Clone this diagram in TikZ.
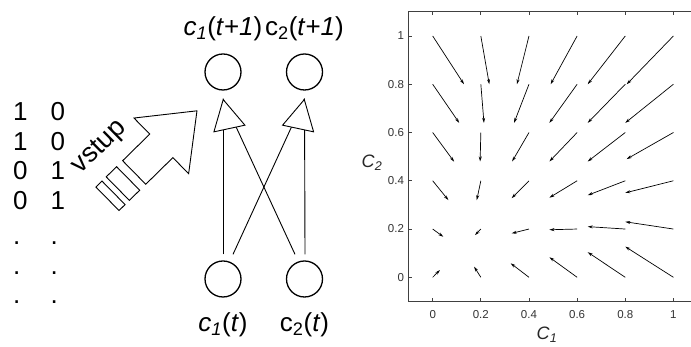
\documentclass[tikz,border=0pt]{standalone}
\usepackage{fontspec}
\setmainfont{Liberation Sans}
\usetikzlibrary{arrows.meta,positioning,calc}
\tikzset{
  neuron/.style={draw, circle, minimum size=36pt, inner sep=0pt, line width=1.3pt},
  lbl/.style={font=\fontsize{26}{30}\selectfont, inner sep=0pt},
  digit/.style={font=\fontsize{26}{30}\selectfont, inner sep=0pt, anchor=base west},
  vlbl/.style={font=\fontsize{27}{30}\selectfont, inner sep=0pt},
  outline/.style={line width=0.9pt, fill=white},
  link/.style={line width=0.9pt},
  head/.style={-{Triangle[length=31pt,width=33pt,fill=white]}, line width=0.9pt},
  vec/.style={-{Stealth[length=5pt,width=3pt]}, line width=0.7pt},
  frame/.style={line width=0.8pt, draw=black!75},
  ticklbl/.style={font=\fontsize{11.5}{13}\selectfont, text=black!80, inner sep=0pt},
  axlbl/.style={font=\fontsize{18}{20}\selectfont, text=black!85, inner sep=0pt}
}
\begin{document}
\begin{tikzpicture}[x=1pt,y=1pt]
  \useasboundingbox (0,0) rectangle (691,347);
  % input patterns
  \foreach \a/\b/\yy [count=\i] in {1/0/226,1/0/196.5,0/1/167,0/1/137.5,././102,././72,././43}{
    \node[digit] (pa\i) at (13,\yy) {\a};
    \node[digit] (pb\i) at (50.5,\yy) {\b};
  }
  % input arrow
  \begin{scope}[shift={(134.2,174.5)},rotate=44.5]
    \draw[outline] (0,16.5) -- (38,16.5) -- (38,39) -- (88,0) -- (38,-39) -- (38,-16.5) -- (0,-16.5) -- cycle;
    \draw[outline] (-23,-16.5) rectangle (-8.5,16.5);
    \draw[outline] (-37.5,-16.5) rectangle (-29,16.5);
    \node[vlbl, transform shape] (vstup) at (-7,42) {vstup};
  \end{scope}
  % network
  \node[neuron] (top1) at (223,275) {};
  \node[neuron] (top2) at (304.5,275) {};
  \node[neuron] (bot1) at (223,68) {};
  \node[neuron] (bot2) at (304.5,68) {};
  \node[lbl, above=12pt of top1] (ltop1) {\textit{c}\textsubscript{\textit{1}}(\textit{t}+\textit{1})};
  \node[lbl, above=12pt of top2] (ltop2) {c\textsubscript{2}(\textit{t}+\textit{1})};
  \node[lbl, below=15pt of bot1] (lbot1) {\textit{c}\textsubscript{\textit{1}}(\textit{t})};
  \node[lbl, below=15pt of bot2] (lbot2) {c\textsubscript{2}(\textit{t})};
  \coordinate (tip1) at ($(top1.south)+(0,-8)$);
  \coordinate (tip2) at ($(top2.south)+(0,-8)$);
  \draw[link] ($(bot1.north)+(0,6)$) -- (tip1);
  \draw[link] ($(bot1.north)+(10,6)$) -- (tip2);
  \draw[link] ($(bot2.north)+(-9.5,6)$) -- (tip1);
  \draw[link] ($(bot2.north)+(0.5,6)$) -- (tip2);
  \draw[head] ($(tip1)+(6.5,-30.3)$) -- (tip1);
  \draw[head] ($(tip2)+(-6.5,-30.3)$) -- (tip2);
  % phase plot
  \begin{scope}[shift={(432.7,69.7)},x=240.7pt,y=241.3pt]
    \draw[frame] (1.073,-0.1) -- (-0.1,-0.1) -- (-0.1,1.1) -- (1.073,1.1);
    \foreach \t/\lab [count=\i] in {0/0,0.2/0.2,0.4/0.4,0.6/0.6,0.8/0.8,1/1}{
      \draw[frame] (\t,-0.1) -- ++(0,3.5pt);
      \draw[frame] (\t,1.1) -- ++(0,-3.5pt);
      \draw[frame] (-0.1,\t) -- ++(3.5pt,0);
      \node[ticklbl] (xt\i) at (\t,-0.156) {\lab};
      \node[ticklbl, anchor=east] (yt\i) at ([xshift=-4.5pt]-0.1,\t) {\lab};
    }
    \node[axlbl] (xlab) at (0.475,-0.239) {\textit{C}\textsubscript{\textit{1}}};
    \node[axlbl] (ylab) at (-0.252,0.474) {\textit{C}\textsubscript{\textit{2}}};
    \foreach \x/\y/\u/\v in {
      0/1/0.13/-0.2, 0.2/1/0.035/-0.2, 0.4/1/-0.05/-0.2, 0.6/1/-0.11/-0.2, 0.8/1/-0.156/-0.2, 1/1/-0.194/-0.2,
      0/0.8/0.11/-0.16, 0.2/0.8/0.013/-0.16, 0.4/0.8/-0.062/-0.16, 0.6/0.8/-0.115/-0.16, 0.8/0.8/-0.156/-0.16, 1/0.8/-0.2/-0.16,
      0/0.6/0.089/-0.121, 0.2/0.6/-0.003/-0.12, 0.4/0.6/-0.07/-0.12, 0.6/0.6/-0.115/-0.12, 0.8/0.6/-0.156/-0.12, 1/0.6/-0.194/-0.11,
      0/0.4/0.065/-0.08, 0.2/0.4/-0.017/-0.08, 0.4/0.4/-0.072/-0.072, 0.6/0.4/-0.115/-0.07, 0.8/0.4/-0.156/-0.06, 1/0.4/-0.2/-0.05,
      0/0.2/0.044/-0.032, 0.2/0.2/-0.024/-0.025, 0.4/0.2/-0.072/-0.018, 0.6/0.2/-0.115/-0.003, 0.8/0.2/-0.156/0.01, 1/0.2/-0.2/0.03,
      0/0/0.03/0.03, 0.2/0/-0.028/0.044, 0.4/0/-0.076/0.058, 0.6/0/-0.115/0.083, 0.8/0/-0.156/0.104, 1/0/-0.2/0.127}
      \draw[vec] (\x,\y) -- ++(\u,\v);
  \end{scope}
\end{tikzpicture}
\end{document}
